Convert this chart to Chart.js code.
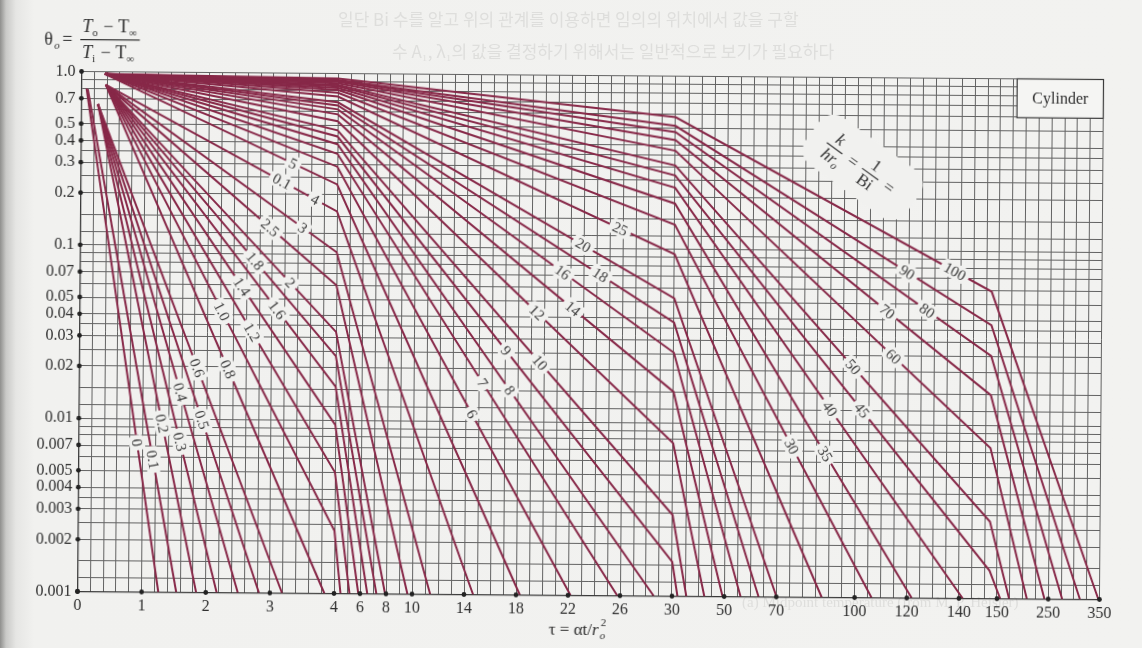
<!DOCTYPE html>
<html>
<head>
<meta charset="utf-8">
<script src="https://cdn.jsdelivr.net/npm/chart.js@4.4.1/dist/chart.umd.min.js"></script>
<style>
  html, body { margin: 0; padding: 0; }
  body {
    width: 1142px; height: 648px; overflow: hidden; position: relative;
    background: linear-gradient(to right, #8f8f8d 0px, #c9c9c7 6px, #e6e6e4 16px, #f1f1ef 34px, #f2f2f0 100%);
  }
  #wrap {
    position: absolute; left: 0; top: 0; width: 1142px; height: 648px;
    transform: rotate(0.45deg); transform-origin: 590.5px 335.5px;
  }
  .ghost { position: absolute; font-family: "Noto Sans CJK KR"; color: #dededc; font-size: 17px;
           white-space: nowrap; filter: blur(0.5px); }
</style>
</head>
<body>
<div class="ghost" style="left:338px; top:6px;">일단 Bi 수를 알고 위의 관계를 이용하면 임의의 위치에서 값을 구할</div>
<div class="ghost" style="left:392px; top:38px;">수 A₁, λ₁의 값을 결정하기 위해서는 일반적으로 보기가 필요하다</div>
<div class="ghost" style="left:742px; top:594px; font-family:'Liberation Serif'; font-size:15px;">(a) Midpoint temperature (from M. P. Heisler)</div>
<div id="wrap"><canvas id="c" width="1142" height="648"></canvas></div>
<script>
// ---- data ----
const BI_INV = [0, 0.1, 0.2, 0.3, 0.4, 0.5, 0.6, 0.8, 1.0, 1.2, 1.4, 1.6, 1.8, 2, 2.5, 3, 4,
                5, 6, 7, 8, 9, 10, 12, 14, 16, 18, 20, 25, 30, 35, 40, 45, 50, 60, 70, 80, 90, 100];

// where each line starts (top left fan)
const START_TAU = [0.08, 0.10, 0.26, 0.26, 0.26, 0.26, 0.26,
                   0.38, 0.38, 0.38, 0.38, 0.38, 0.38, 0.38, 0.38, 0.38, 0.38,
                   0.365, 0.365, 0.365, 0.365, 0.365, 0.365, 0.365, 0.365, 0.365, 0.365, 0.365,
                   0.365, 0.365, 0.365, 0.365, 0.365, 0.365, 0.365, 0.365, 0.365, 0.365, 0.365];
const START_THETA = [0.80, 0.79, 0.65, 0.65, 0.65, 0.65, 0.65,
                     0.84, 0.84, 0.84, 0.84, 0.84, 0.84, 0.84, 0.84, 0.84, 0.84,
                     0.97, 0.97, 0.97, 0.97, 0.97, 0.97, 0.97, 0.97, 0.97, 0.97, 0.97,
                     0.97, 0.97, 0.97, 0.97, 0.97, 0.97, 0.97, 0.97, 0.97, 0.97, 0.97];

// value where each line crosses the breaks of the tau axis
const KINK_TAU = [4, 30, 148];
const THETA_AT_4 = [null, null, null, null, null, null, null, null,
                    0.0023, 0.0050, 0.0094, 0.0156, 0.0234, 0.0323, 0.060, 0.093, 0.160,
                    0.229, 0.290, 0.344, 0.391, 0.433, 0.470, 0.531, 0.581, 0.621, 0.654, 0.682,
                    0.736, 0.774, 0.803, 0.825, 0.843, 0.857, 0.879, 0.896, 0.908, 0.918, 0.935];
const THETA_AT_30 = [null, null, null, null, null, null, null, null, null, null, null,
                     null, null, null, null, null, null, null, null, null, null,
                     0.00158, 0.00294, 0.00763, 0.0151, 0.0254, 0.0379, 0.0523,
                     0.0939, 0.139, 0.184, 0.227, 0.267, 0.305, 0.371, 0.427, 0.475, 0.516, 0.58];
const THETA_AT_148 = [null, null, null, null, null, null, null, null, null, null, null,
                      null, null, null, null, null, null, null, null, null, null,
                      null, null, null, null, null, null, null, null, null, null, null,
                      0.00145, 0.00278, 0.00738, 0.0149, 0.0251, 0.0377, 0.059];
// tau where each line reaches the bottom (0.001)
const END_TAU = [1.26, 1.54, 1.85, 2.17, 2.50, 2.83, 3.19, 3.85, 4.5, 5.19, 5.87, 6.56, 7.26,
                 7.93, 9.65, 11.4, 14.7, 18.3, 22.2, 25.8, 28.6, 32.1, 35.5, 42.4, 49.4, 56.3,
                 63.2, 70.1, 87.4, 106.5, 121.9, 141.0, 156.4, 173.7, 208.3, 242.7, 277.3, 311.9, 348];
const END_THETA = 0.001;

// curve labels: text, which curve, and tau where it sits
const LABEL_TEXT = ['0', '0.1', '0.2', '0.3', '0.4', '0.5', '0.6', '0.8', '1.0', '1.2', '1.4', '1.6',
                    '1.8', '2', '2.5', '3', '4', '0.1', '5', '6', '7', '8', '9', '10', '12', '14',
                    '16', '18', '20', '25', '30', '35', '40', '45', '50', '60', '70', '80', '90', '100'];
const LABEL_CURVE = [0, 0.1, 0.2, 0.3, 0.4, 0.5, 0.6, 0.8, 1.0, 1.2, 1.4, 1.6,
                     1.8, 2, 2.5, 3, 4, 4, 5, 6, 7, 8, 9, 10, 12, 14,
                     16, 18, 20, 25, 30, 35, 40, 45, 50, 60, 70, 80, 90, 100];
const LABEL_TAU = [0.91, 1.16, 1.30, 1.58, 1.58, 1.92, 1.84, 2.32, 2.22, 2.69, 2.53, 3.08,
                   2.73, 3.28, 2.96, 3.47, 3.66, 3.14, 3.31, 14.5, 15.3, 17.4, 17.1, 19.7, 19.45, 22.2,
                   21.4, 24.3, 22.95, 25.8, 75.5, 88.3, 90.0, 102.3, 98.8, 114.2, 111.7, 127.0, 119.2, 137.5];

// axes
const X_TICK_LABELS = [0, 1, 2, 3, 4, 6, 8, 10, 14, 18, 22, 26, 30, 50, 70, 100, 120, 140, 150, 250, 350];
const Y_TICK_VALUES = [1, 0.7, 0.5, 0.4, 0.3, 0.2, 0.1, 0.07, 0.05, 0.04, 0.03, 0.02,
                       0.01, 0.007, 0.005, 0.004, 0.003, 0.002, 0.001];
const Y_TICK_TEXT = ['1.0', '0.7', '0.5', '0.4', '0.3', '0.2', '0.1', '0.07', '0.05', '0.04', '0.03', '0.02',
                     '0.01', '0.007', '0.005', '0.004', '0.003', '0.002', '0.001'];
const DECADE_GRID = [1, 0.9, 0.8, 0.7, 0.6, 0.5, 0.4, 0.35, 0.3, 0.25, 0.2, 0.15, 0.12];

// the tau axis is broken in pieces, each with its own spacing
const X_BREAK_TAU = [0, 4, 30, 140, 150, 350];
const X_BREAK_FRAC = [0, 0.2510, 0.5817, 0.8625, 0.8997, 1];

const LINE_COLOR = '#872848';
const GRID_COLOR = '#626262';
const TEXT_COLOR = '#2e2e2e';
const BG = '#f1f1ef';
const SERIF = '"Liberation Serif", "DejaVu Serif", serif';

// vertical grid lines
const GRID_TAU = [];
for (let i = 0; i <= 20; i++) GRID_TAU.push(i * 0.2);
for (let t = 5; t <= 30; t++) GRID_TAU.push(t);
for (let t = 35; t <= 140; t += 5) GRID_TAU.push(t);
GRID_TAU.push(143.333, 146.667, 150);
for (let t = 175; t <= 350; t += 25) GRID_TAU.push(t);

// horizontal grid lines
const GRID_THETA = [];
[1, 0.1, 0.01].forEach(d => DECADE_GRID.forEach(s => GRID_THETA.push(s * d)));
GRID_THETA.push(0.001);

function tauToFrac(v) {
    const n = X_BREAK_TAU.length;
    for (let i = 1; i < n; i++) {
        if (v <= X_BREAK_TAU[i] || i === n - 1) {
            const t0 = X_BREAK_TAU[i - 1], t1 = X_BREAK_TAU[i];
            return X_BREAK_FRAC[i - 1] + (v - t0) / (t1 - t0) * (X_BREAK_FRAC[i] - X_BREAK_FRAC[i - 1]);
        }
    }
}

function fracToTau(f) {
    const n = X_BREAK_FRAC.length;
    for (let i = 1; i < n; i++) {
        if (f <= X_BREAK_FRAC[i] || i === n - 1) {
            const f0 = X_BREAK_FRAC[i - 1], f1 = X_BREAK_FRAC[i];
            return X_BREAK_TAU[i - 1] + (f - f0) / (f1 - f0) * (X_BREAK_TAU[i] - X_BREAK_TAU[i - 1]);
        }
    }
}

class BrokenScale extends Chart.LinearScale {
    determineDataLimits() {
        this.min = X_BREAK_TAU[0];
        this.max = X_BREAK_TAU[X_BREAK_TAU.length - 1];
    }
    buildTicks() {
        return GRID_TAU.map(v => ({ value: v }));
    }
    getPixelForValue(v) {
        return this.getPixelForDecimal(tauToFrac(v));
    }
    getValueForPixel(p) {
        return fracToTau(this.getDecimalForPixel(p));
    }
}
BrokenScale.id = 'broken';
BrokenScale.defaults = Chart.LinearScale.defaults;
Chart.register(BrokenScale);

function near(a, b) {
    return Math.abs(a - b) <= Math.abs(b) * 1e-6 + 1e-9;
}

function curvePoints(i) {
    let pts = [{ x: START_TAU[i], y: START_THETA[i] }];
    const kinks = [THETA_AT_4[i], THETA_AT_30[i], THETA_AT_148[i]];
    KINK_TAU.forEach((t, j) => {
        if (kinks[j] != null) pts.push({ x: t, y: kinks[j] });
    });
    pts.push({ x: END_TAU[i], y: END_THETA });
    return pts;
}

let datasets = BI_INV.map((k, i) => ({
    label: String(k),
    data: curvePoints(i),
    borderColor: LINE_COLOR,
    borderWidth: 2,
    pointRadius: 0,
    tension: 0,
    fill: false
}));

function pointOnCurve(chart, dsIndex, tau) {
    const pts = chart.getDatasetMeta(dsIndex).data;
    const px = chart.scales.x.getPixelForValue(tau);
    for (let j = 1; j < pts.length; j++) {
        const a = pts[j - 1], b = pts[j];
        if (px >= a.x && px <= b.x) {
            const f = (px - a.x) / ((b.x - a.x) || 1);
            return { x: px, y: a.y + f * (b.y - a.y), ang: Math.atan2(b.y - a.y, b.x - a.x) };
        }
    }
    return null;
}

function roundRect(ctx, x, y, w, h, r) {
    ctx.beginPath();
    ctx.moveTo(x + r, y);
    ctx.arcTo(x + w, y, x + w, y + h, r);
    ctx.arcTo(x + w, y + h, x, y + h, r);
    ctx.arcTo(x, y + h, x, y, r);
    ctx.arcTo(x, y, x + w, y, r);
    ctx.closePath();
}

function fraction(ctx, cx, top, bottom, barY) {
    // draws top over bottom, centred on cx
    const wTop = ctx.measureText(top).width;
    const wBot = ctx.measureText(bottom).width;
    const w = Math.max(wTop, wBot) + 4;
    ctx.fillText(top, cx - wTop / 2, barY - 5);
    ctx.fillText(bottom, cx - wBot / 2, barY + 15);
    ctx.fillRect(cx - w / 2, barY - 0.6, w, 1.2);
}

const decor = {
    id: 'decor',
    beforeDatasetsDraw(chart) {
        const ctx = chart.ctx;
        const xs = chart.scales.x, ys = chart.scales.y;
        // "Cylinder" box in the top right corner
        const x0 = xs.getPixelForValue(181.6), x1 = xs.getPixelForValue(350);
        const y0 = ys.getPixelForValue(1), y1 = ys.getPixelForValue(0.597);
        ctx.save();
        ctx.fillStyle = '#f5f5f3';
        ctx.fillRect(x0, y0, x1 - x0, y1 - y0);
        ctx.strokeStyle = '#3a3a3a';
        ctx.lineWidth = 1.2;
        ctx.strokeRect(x0, y0, x1 - x0, y1 - y0);
        ctx.fillStyle = TEXT_COLOR;
        ctx.font = '16px ' + SERIF;
        ctx.textAlign = 'center';
        ctx.textBaseline = 'middle';
        ctx.fillText('Cylinder', (x0 + x1) / 2, (y0 + y1) / 2 + 1);
        ctx.restore();
    },
    afterDatasetsDraw(chart) {
        const ctx = chart.ctx;
        const xs = chart.scales.x, ys = chart.scales.y;
        ctx.save();
        ctx.font = '15px ' + SERIF;
        ctx.textAlign = 'center';
        ctx.textBaseline = 'middle';
        LABEL_TEXT.forEach((txt, i) => {
            const ds = BI_INV.indexOf(LABEL_CURVE[i]);
            const p = pointOnCurve(chart, ds, LABEL_TAU[i]);
            if (!p) return;
            const w = ctx.measureText(txt).width;
            ctx.save();
            ctx.translate(p.x, p.y);
            ctx.rotate(p.ang);
            ctx.fillStyle = BG;
            roundRect(ctx, -w / 2 - 4, -8, w + 8, 16, 5);
            ctx.fill();
            ctx.fillStyle = '#3a3a3a';
            ctx.fillText(txt, 0, 1);
            ctx.restore();
        });
        ctx.restore();

        // k/hr_o = 1/Bi = label
        const cx = xs.getPixelForValue(101.6), cy = ys.getPixelForValue(0.30);
        ctx.save();
        ctx.translate(cx, cy);
        ctx.rotate(0.62);
        ctx.fillStyle = BG;
        roundRect(ctx, -62, -30, 124, 58, 18);
        ctx.fill();
        ctx.fillStyle = '#333';
        ctx.textBaseline = 'alphabetic';
        ctx.font = 'italic 17px ' + SERIF;
        fraction(ctx, -34, 'k', 'hr', 0);
        ctx.font = 'italic 11px ' + SERIF;
        ctx.fillText('o', -34 + 7, 18);
        ctx.font = '17px ' + SERIF;
        ctx.fillText('=', -16, 5);
        fraction(ctx, 10, '1', 'Bi', 0);
        ctx.fillText('=', 28, 5);
        ctx.restore();
    },
    afterDraw(chart) {
        const ctx = chart.ctx;
        const xs = chart.scales.x, ys = chart.scales.y;
        const area = chart.chartArea;
        ctx.save();
        ctx.fillStyle = '#222';
        X_TICK_LABELS.forEach(v => {
            ctx.beginPath();
            ctx.arc(xs.getPixelForValue(v), area.bottom, 2.4, 0, Math.PI * 2);
            ctx.fill();
        });
        Y_TICK_VALUES.forEach(v => {
            ctx.beginPath();
            ctx.arc(area.left, ys.getPixelForValue(v), 2.4, 0, Math.PI * 2);
            ctx.fill();
        });

        // axis title  tau = alpha t / r_o^2
        ctx.fillStyle = TEXT_COLOR;
        ctx.textBaseline = 'alphabetic';
        ctx.font = '17px ' + SERIF;
        let x = 551, yb = 635;
        const part1 = '\u03c4 = \u03b1t/';
        ctx.fillText(part1, x, yb);
        x += ctx.measureText(part1).width;
        ctx.font = 'italic 17px ' + SERIF;
        ctx.fillText('r', x, yb);
        x += ctx.measureText('r').width + 1;
        ctx.font = 'italic 11px ' + SERIF;
        ctx.fillText('o', x, yb + 4);
        ctx.font = '11px ' + SERIF;
        ctx.fillText('2', x + 1, yb - 9);

        // theta_o = (T_o - T_inf)/(T_i - T_inf)
        ctx.font = '18px ' + SERIF;
        ctx.fillText('\u03b8', 42, 49);
        ctx.font = 'italic 11px ' + SERIF;
        ctx.fillText('o', 52, 53);
        ctx.font = '18px ' + SERIF;
        ctx.fillText('=', 60, 49);
        const parts = [['T', 'o', ' \u2212 T', '\u221e'], ['T', 'i', ' \u2212 T', '\u221e']];
        parts.forEach((pp, r) => {
            let px = 80, py = r === 0 ? 36 : 62;
            pp.forEach((s, j) => {
                const sub = j % 2 === 1;
                ctx.font = (sub ? '11px ' : 'italic 18px ') + SERIF;
                if (j === 2) ctx.font = '18px ' + SERIF;
                ctx.fillText(s, px, py + (sub ? 4 : 0));
                px += ctx.measureText(s).width + (sub ? 1 : 0);
            });
            if (r === 0) ctx.fillRect(78, 43, px - 76, 1.2);
        });
        ctx.restore();
    }
};

Chart.defaults.font.family = SERIF;

new Chart(document.getElementById('c').getContext('2d'), {
    type: 'line',
    data: { datasets: datasets },
    options: {
        responsive: false,
        animation: false,
        devicePixelRatio: 1,
        layout: { padding: { left: 0, top: 75.5, right: 40.5, bottom: 0 } },
        plugins: { legend: { display: false }, tooltip: { enabled: false } },
        scales: {
            x: {
                type: 'broken',
                min: 0,
                max: 350,
                grid: { color: GRID_COLOR, lineWidth: 1, drawTicks: false },
                border: { color: '#3a3a3a', width: 1.3 },
                ticks: {
                    autoSkip: false, maxRotation: 0, minRotation: 0, padding: 5,
                    color: TEXT_COLOR, font: { size: 16 },
                    callback: (v) => X_TICK_LABELS.some(t => near(v, t)) ? String(v) : ''
                },
                afterFit: (s) => { s.height = 52.5; }
            },
            y: {
                type: 'logarithmic',
                min: 0.001,
                max: 1,
                grid: { color: GRID_COLOR, lineWidth: 1, drawTicks: false },
                border: { color: '#3a3a3a', width: 1.3 },
                afterBuildTicks: (s) => { s.ticks = GRID_THETA.map(v => ({ value: v })); },
                ticks: {
                    autoSkip: false, padding: 6, color: TEXT_COLOR, font: { size: 16 },
                    callback: (v) => {
                        const i = Y_TICK_VALUES.findIndex(t => near(v, t));
                        return i >= 0 ? Y_TICK_TEXT[i] : '';
                    }
                },
                afterFit: (s) => { s.width = 79.5; }
            }
        }
    },
    plugins: [decor]
});
</script>
</body>
</html>
